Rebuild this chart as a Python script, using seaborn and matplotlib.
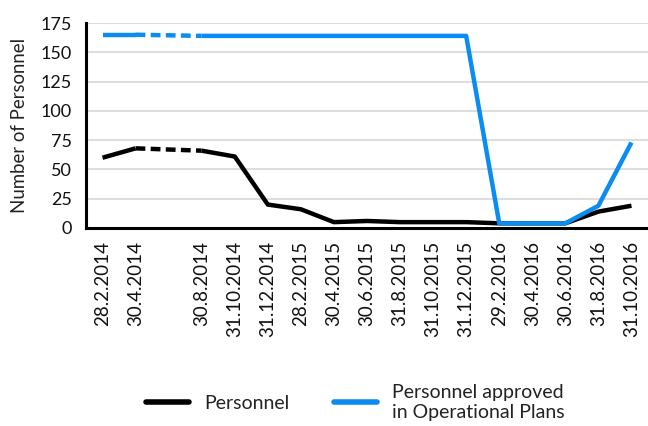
import numpy as np
import pandas as pd
import matplotlib
matplotlib.use("Agg")
import matplotlib.pyplot as plt
import seaborn as sns

# Reporting dates (no report for 30.6.2014, left as an empty slot)
dates = ["28.2.2014", "30.4.2014", "", "30.8.2014", "31.10.2014", "31.12.2014",
         "28.2.2015", "30.4.2015", "30.6.2015", "31.8.2015", "31.10.2015",
         "31.12.2015", "29.2.2016", "30.4.2016", "30.6.2016", "31.8.2016",
         "31.10.2016"]
personnel = [60, 68, np.nan, 66, 61, 20, 16, 5, 6, 5, 5, 5, 4, 4, 4, 14, 19]
approved = [165, 165, np.nan, 164, 164, 164, 164, 164, 164, 164, 164, 164,
            4, 4, 4, 19, 73]

BLACK = "#000000"
BLUE = "#0A8CF0"

sns.set_theme(style="white")
plt.rcParams["font.family"] = ["Lato", "DejaVu Sans"]

df = pd.DataFrame({"pos": np.arange(len(dates)), "date": dates,
                   "Personnel": personnel, "Approved": approved})

fig = plt.figure(figsize=(6.48, 4.26), dpi=100)
ax = fig.add_axes([86 / 648, 1 - 228 / 426, 1 - 86 / 648, (228 - 23) / 426])

gap = 2  # slot with no report
for col, color in [("Personnel", BLACK), ("Approved", BLUE)]:
    before = df[df["pos"] < gap]
    after = df[df["pos"] > gap]
    bridge = df[df["pos"].isin([gap - 1, gap + 1])]
    sns.lineplot(data=before, x="pos", y=col, color=color, lw=3.2, ax=ax,
                 solid_capstyle="butt")
    sns.lineplot(data=after, x="pos", y=col, color=color, lw=3.2, ax=ax,
                 solid_capstyle="butt")
    sns.lineplot(data=bridge, x="pos", y=col, color=color, lw=3.2, ax=ax,
                 dashes=False, linestyle=(0, (2.2, 1.2)))

ax.set_xlim(-0.5, len(dates) - 0.5)
ax.set_ylim(0, 175)
ax.set_yticks(np.arange(0, 176, 25))
ax.set_xticks(df["pos"])
ax.set_xticklabels(dates, rotation=90, fontsize=13.5)
ax.tick_params(axis="y", labelsize=13, length=0, pad=10)
ax.tick_params(axis="x", length=0, pad=9)
for lab in ax.get_xticklabels() + ax.get_yticklabels():
    lab.set_color("#111111")

ax.grid(axis="y", color="#DDDDDD", lw=1.4)
ax.grid(axis="x", visible=False)
ax.set_axisbelow(True)
for s in ["top", "right"]:
    ax.spines[s].set_visible(False)
for s in ["left", "bottom"]:
    ax.spines[s].set_color("black")
    ax.spines[s].set_linewidth(2.2)

ax.set_xlabel("")
ax.set_ylabel("Number of Personnel", fontsize=13.4, color="#222222", labelpad=9)

handles = [plt.Line2D([], [], color=BLACK, lw=4),
           plt.Line2D([], [], color=BLUE, lw=4)]
fig.legend(handles, ["Personnel", "Personnel approved\nin Operational Plans"],
           loc="center", bbox_to_anchor=(0.548, 0.056), ncol=2, frameon=False,
           fontsize=14, handlelength=2.2, handletextpad=0.77, columnspacing=2.3,
           labelspacing=0.2, labelcolor="#222222")

fig.savefig("out.png", dpi=100)
